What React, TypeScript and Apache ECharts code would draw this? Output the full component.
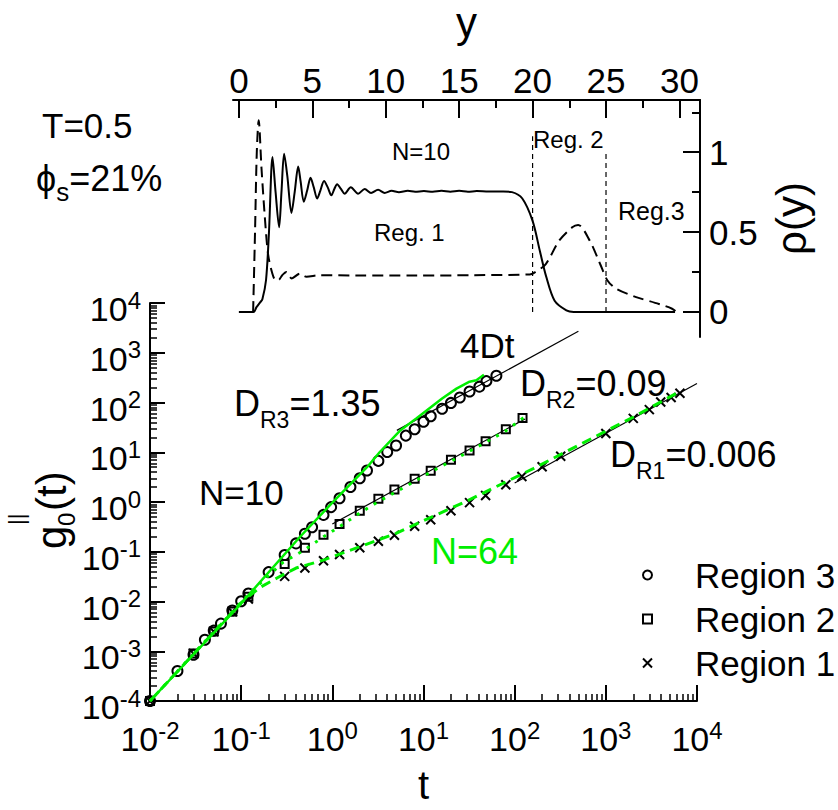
import React, { useEffect, useRef } from 'react';
import * as echarts from 'echarts';

const FONT = '"Liberation Sans", Arial, Helvetica, sans-serif';
const GREEN = '#00ee00';

// ---- main panel: g0||(t) vs t, N=10 markers ----
const region3T = [0.01, 0.02, 0.03, 0.04, 0.05, 0.06, 0.08, 0.1, 0.12, 0.2, 0.3, 0.4, 0.5, 0.6, 0.8, 0.97, 1.2, 1.58, 2.0, 2.4, 3.2, 4.0, 5.0, 6.4, 8.0, 10, 12, 16, 20, 25, 32, 41, 49, 63];
const region3G = [1e-4, 4e-4, 8.5e-4, 1.7e-3, 2.6e-3, 3.6e-3, 6.6e-3, 0.0101, 0.0145, 0.039, 0.086, 0.147, 0.23, 0.31, 0.55, 0.79, 1.19, 2.0, 3.0, 4.3, 6.7, 10.1, 13.7, 21.6, 29, 41, 53, 75, 98, 126, 166, 208, 269, 344];

const region2T = [0.01, 0.03, 0.05, 0.08, 0.12, 0.3, 0.5, 0.8, 1.2, 2, 3.2, 4.8, 8, 12, 20, 32, 48, 80, 122];
const region2G = [1e-4, 9e-4, 2.5e-3, 6.3e-3, 0.0125, 0.057, 0.12, 0.22, 0.36, 0.67, 1.16, 1.78, 2.93, 4.27, 7.1, 10.9, 16.7, 29, 49];

const region1T = [0.01, 0.03, 0.05, 0.08, 0.12, 0.3, 0.5, 0.8, 1.2, 2, 3.2, 4.8, 8, 12, 20, 32, 48, 80, 120, 200, 320, 1000, 2000, 3000, 4000, 5200, 6500];
const region1G = [1e-4, 9e-4, 2.5e-3, 6.2e-3, 0.0112, 0.032, 0.047, 0.066, 0.088, 0.12, 0.163, 0.214, 0.326, 0.44, 0.665, 0.97, 1.35, 2.23, 3.25, 5.1, 8.3, 23.9, 48, 72, 102, 126, 154];

// N=64 curves (green)
const n64R3T = [0.01, 0.1, 0.44, 1.0, 2.4, 3.3, 5.5, 8.4, 16, 23, 32, 38, 46];
const n64R3G = [1e-4, 0.0091, 0.198, 0.97, 5.0, 10.0, 27, 48, 120, 190, 262, 281, 360];
const n64R2T = [0.01, 0.125, 0.29, 0.5, 0.8, 1.2, 2, 3.2, 5, 8, 12, 20, 32, 50, 80, 135];
const n64R2G = [1e-4, 0.015, 0.062, 0.11, 0.2, 0.32, 0.6, 1.02, 1.6, 2.6, 4.0, 6.6, 10.5, 16.5, 27, 55];
const n64R1T = [0.01, 0.1, 0.16, 0.25, 0.4, 0.8, 2, 5, 10, 30, 160, 2000, 6400];
const n64R1G = [1e-4, 0.0095, 0.019, 0.03, 0.047, 0.068, 0.126, 0.235, 0.42, 1.05, 4.7, 51, 165];

// 4Dt fit lines (end points)
const fitR3T = [5.1, 500];
const fitR3G = [27.5, 2700];
const fitR2T = [1.0, 130];
const fitR2G = [0.36, 46.8];
const fitR1T = [100, 10000];
const fitR1G = [2.4, 240];

// ---- inset: rho(y) ----
const rhoSolidY = [0, 1.0, 1.2, 1.45, 1.6, 1.85, 2.05, 2.29, 2.5, 2.74, 2.9, 3.08, 3.3, 3.58, 3.8, 4.04, 4.2, 4.42, 4.65, 4.88, 5.1, 5.33, 5.55, 5.8, 6.05, 6.3, 6.5, 6.69, 6.95, 7.2, 7.62, 8.12, 8.57, 9.0, 9.48, 9.93, 10.4, 10.9, 11.5, 12.0, 12.6, 13.2, 13.8, 14.4, 15.0, 15.6, 16.2, 17, 18, 18.6, 19.3, 20.0, 20.5, 20.93, 21.5, 22.3, 22.8, 29.7];
const rhoSolidV = [0, 0, 0.03, 0.06, 0.08, 0.2, 0.5, 0.97, 0.75, 0.53, 0.75, 0.99, 0.85, 0.62, 0.75, 0.91, 0.82, 0.69, 0.76, 0.84, 0.78, 0.71, 0.76, 0.82, 0.78, 0.73, 0.77, 0.8, 0.77, 0.74, 0.78, 0.74, 0.77, 0.745, 0.765, 0.745, 0.758, 0.75, 0.758, 0.752, 0.757, 0.752, 0.758, 0.752, 0.758, 0.752, 0.757, 0.754, 0.754, 0.75, 0.71, 0.57, 0.38, 0.22, 0.07, 0.01, 0, 0];
const rhoDashY = [0.97, 1.1, 1.22, 1.35, 1.54, 1.77, 1.99, 2.25, 2.5, 2.7, 2.95, 3.24, 3.6, 4.15, 4.6, 5.5, 8, 12, 16, 19.8, 20.1, 20.9, 21.8, 22.7, 23.1, 23.9, 24.6, 25.1, 25.7, 27.05, 28.6, 29.5, 29.8];
const rhoDashV = [0, 0.5, 1.0, 1.2, 0.9, 0.59, 0.36, 0.25, 0.2, 0.2, 0.23, 0.25, 0.21, 0.24, 0.22, 0.23, 0.228, 0.228, 0.23, 0.235, 0.245, 0.3, 0.445, 0.53, 0.545, 0.445, 0.3, 0.197, 0.145, 0.093, 0.05, 0.02, 0];
const regBoundY = [20, 25];
const regBoundTop = [1.1, 1.0];

// tick values
const mainXMajor = [0.01, 0.1, 1, 10, 100, 1000, 10000];
const mainYMajor = [1e-4, 1e-3, 1e-2, 0.1, 1, 10, 100, 1000, 10000];
const insetXMajor = [0, 5, 10, 15, 20, 25, 30];
const insetXMinor = [2.5, 7.5, 12.5, 17.5, 22.5, 27.5];
const insetYMajor = [0, 0.5, 1];
const insetYMinor = [0.25, 0.75, 1.25];

function minorLog(lo: number, hi: number) {
  const out: number[] = [];
  for (let k = lo; k < hi; k++) for (let m = 2; m <= 9; m++) out.push(Number((m * Math.pow(10, k)).toPrecision(3)));
  return out;
}
const mainXMinor = minorLog(-2, 4);
const mainYMinor = minorLog(-4, 4);

const zip = (a: number[], b: number[]) => a.map((v, i) => [v, b[i]]);
const pow10 = (v: number) => `{b|10}{e|${Math.round(Math.log10(v))}}`;
const richTick = {
  b: { fontSize: 34, lineHeight: 42, verticalAlign: 'middle', fontFamily: FONT, color: '#000' },
  e: { fontSize: 24, lineHeight: 18, verticalAlign: 'top', fontFamily: FONT, color: '#000' },
};
const richAnn = {
  m: { fontSize: 36, lineHeight: 36, verticalAlign: 'top', fontFamily: FONT, color: '#000' },
  s: { fontSize: 23, lineHeight: 70, verticalAlign: 'middle', fontFamily: FONT, color: '#000' },
};
const AX = { color: '#000', width: 2 };

export default function App() {
  const ref = useRef<HTMLDivElement>(null);
  useEffect(() => {
    if (!ref.current) return;
    const chart = echarts.init(ref.current, undefined, { renderer: 'svg' });
    const txt = (text: string, x: number, y: number, size: number, fill = '#000') => ({
      type: 'text', x, y, silent: true,
      style: { text, fontSize: size, fontFamily: FONT, fill, align: 'left', verticalAlign: 'middle' },
    });
    const richTxt = (text: string, x: number, y: number, rich: any) => ({
      type: 'text', x, y, silent: true,
      style: { text, rich, fontSize: 36, fontFamily: FONT, fill: '#000', align: 'left', verticalAlign: 'top' },
    });
    const option: any = {
      animation: false,
      backgroundColor: '#fff',
      grid: [
        { left: 150, top: 303, width: 547, height: 406 },
        { left: 233, top: 98, width: 467, height: 239 },
      ],
      xAxis: [
        {
          type: 'log', gridIndex: 0, min: 0.01, max: 10000, position: 'bottom',
          axisLine: { onZero: false, lineStyle: AX },
          axisTick: { inside: true, length: 16, customValues: mainXMajor, lineStyle: AX },
          axisLabel: { customValues: mainXMajor, formatter: pow10, rich: richTick, margin: 17 },
          splitLine: { show: false },
          name: 't', nameLocation: 'middle', nameGap: 64,
          nameTextStyle: { fontSize: 40, fontFamily: FONT, color: '#000' },
        },
        {
          type: 'log', gridIndex: 0, min: 0.01, max: 10000, position: 'bottom',
          axisLine: { show: false, onZero: false },
          axisTick: { inside: true, length: 7, customValues: mainXMinor, lineStyle: { color: '#000', width: 1.5 } },
          axisLabel: { show: false }, splitLine: { show: false },
        },
        {
          type: 'value', gridIndex: 1, min: -0.4, max: 31.4, position: 'top',
          axisLine: { onZero: false, lineStyle: AX },
          axisTick: { inside: true, length: 18, customValues: insetXMajor, lineStyle: AX },
          axisLabel: { customValues: insetXMajor, fontSize: 35, fontFamily: FONT, color: '#000', margin: 2 },
          splitLine: { show: false },
          name: 'y', nameLocation: 'middle', nameGap: 57,
          nameTextStyle: { fontSize: 42, fontFamily: FONT, color: '#000' },
        },
        {
          type: 'value', gridIndex: 1, min: -0.4, max: 31.4, position: 'top',
          axisLine: { show: false, onZero: false },
          axisTick: { inside: true, length: 8, customValues: insetXMinor, lineStyle: AX },
          axisLabel: { show: false }, splitLine: { show: false },
        },
      ],
      yAxis: [
        {
          type: 'log', gridIndex: 0, min: 1e-4, max: 1e4, position: 'left',
          axisLine: { onZero: false, lineStyle: AX },
          axisTick: { inside: true, length: 15, customValues: mainYMajor, lineStyle: AX },
          axisLabel: { customValues: mainYMajor, formatter: pow10, rich: richTick, margin: 9, padding: [12, 0, 0, 0] },
          splitLine: { show: false },
        },
        {
          type: 'log', gridIndex: 0, min: 1e-4, max: 1e4, position: 'left',
          axisLine: { show: false, onZero: false },
          axisTick: { inside: true, length: 7, customValues: mainYMinor, lineStyle: { color: '#000', width: 1.5 } },
          axisLabel: { show: false }, splitLine: { show: false },
        },
        {
          type: 'value', gridIndex: 1, min: -0.157, max: 1.327, position: 'right',
          axisLine: { onZero: false, lineStyle: AX },
          axisTick: { inside: true, length: 17, customValues: insetYMajor, lineStyle: AX },
          axisLabel: { customValues: insetYMajor, fontSize: 35, fontFamily: FONT, color: '#000', margin: 9 },
          splitLine: { show: false },
          name: 'ρ(y)', nameLocation: 'middle', nameGap: 70, nameRotate: 90,
          nameTextStyle: { fontSize: 42, fontFamily: FONT, color: '#000' },
        },
        {
          type: 'value', gridIndex: 1, min: -0.157, max: 1.327, position: 'right',
          axisLine: { show: false, onZero: false },
          axisTick: { inside: true, length: 8, customValues: insetYMinor, lineStyle: AX },
          axisLabel: { show: false }, splitLine: { show: false },
        },
      ],
      legend: {
        data: ['Region 3', 'Region 2', 'Region 1'],
        orient: 'vertical', left: 637, top: 551,
        itemWidth: 9, itemHeight: 9, itemGap: 6, selectedMode: false,
        textStyle: { fontSize: 35, fontFamily: FONT, color: '#000', lineHeight: 38, padding: [0, 0, 0, 38] },
      },
      series: [
        // fit lines
        { type: 'line', xAxisIndex: 0, yAxisIndex: 0, data: zip(fitR3T, fitR3G), symbol: 'none', lineStyle: { color: '#000', width: 1.2 }, z: 2 },
        { type: 'line', xAxisIndex: 0, yAxisIndex: 0, data: zip(fitR2T, fitR2G), symbol: 'none', lineStyle: { color: '#000', width: 1.2 }, z: 2 },
        { type: 'line', xAxisIndex: 0, yAxisIndex: 0, data: zip(fitR1T, fitR1G), symbol: 'none', lineStyle: { color: '#000', width: 1.2 }, z: 2 },
        // markers
        {
          name: 'Region 3', type: 'scatter', xAxisIndex: 0, yAxisIndex: 0, data: zip(region3T, region3G),
          symbol: 'circle', symbolSize: 10, itemStyle: { color: 'rgba(255,255,255,0)', borderColor: '#000', borderWidth: 2, opacity: 1 }, z: 3,
        },
        {
          name: 'Region 2', type: 'scatter', xAxisIndex: 0, yAxisIndex: 0, data: zip(region2T, region2G),
          symbol: 'rect', symbolSize: 8, itemStyle: { color: 'rgba(255,255,255,0)', borderColor: '#000', borderWidth: 2, opacity: 1 }, z: 3,
        },
        {
          name: 'Region 1', type: 'scatter', xAxisIndex: 0, yAxisIndex: 0, data: zip(region1T, region1G),
          symbol: 'path://M0,0L10,10M10,0L0,10', symbolSize: 9, itemStyle: { color: '#000', borderColor: '#000', borderWidth: 2, opacity: 1 }, z: 3,
        },
        // N=64 curves
        { type: 'line', xAxisIndex: 0, yAxisIndex: 0, data: zip(n64R3T, n64R3G), symbol: 'none', lineStyle: { color: GREEN, width: 2.5 }, z: 4 },
        { type: 'line', xAxisIndex: 0, yAxisIndex: 0, data: zip(n64R2T, n64R2G), symbol: 'none', lineStyle: { color: GREEN, width: 3, type: [3, 7] }, z: 4 },
        { type: 'line', xAxisIndex: 0, yAxisIndex: 0, data: zip(n64R1T, n64R1G), symbol: 'none', lineStyle: { color: GREEN, width: 3, type: [10, 6] }, z: 4 },
        // inset
        { type: 'line', xAxisIndex: 2, yAxisIndex: 2, data: zip(rhoSolidY, rhoSolidV), symbol: 'none', smooth: 0.3, lineStyle: { color: '#000', width: 2 } },
        { type: 'line', xAxisIndex: 2, yAxisIndex: 2, data: zip(rhoDashY, rhoDashV), symbol: 'none', smooth: 0.3, lineStyle: { color: '#000', width: 2, type: [11, 6] } },
        { type: 'line', xAxisIndex: 2, yAxisIndex: 2, data: [[regBoundY[0], 0], [regBoundY[0], regBoundTop[0]]], symbol: 'none', lineStyle: { color: '#000', width: 1.2, type: [5, 4] } },
        { type: 'line', xAxisIndex: 2, yAxisIndex: 2, data: [[regBoundY[1], 0], [regBoundY[1], regBoundTop[1]]], symbol: 'none', lineStyle: { color: '#000', width: 1.2, type: [5, 4] } },
      ],
      graphic: [
        txt('T=0.5', 42, 125.5, 35),
        richTxt('{m|ϕ}{s|s}{m|=21%}', 36, 160, { m: richAnn.m, s: { ...richAnn.s, fontSize: 26, lineHeight: 64 } }),
        richTxt('{m|D}{s|R3}{m|=1.35}', 234, 385, richAnn),
        richTxt('{m|D}{s|R2}{m|=0.09}', 520, 365, richAnn),
        richTxt('{m|D}{s|R1}{m|=0.006}', 610, 436, richAnn),
        txt('4Dt', 460, 345.5, 35),
        txt('N=10', 199, 492.5, 35),
        txt('N=64', 431, 551.5, 36, GREEN),
        txt('N=10', 392, 151.5, 24),
        txt('Reg. 1', 374, 232, 24),
        txt('Reg. 2', 533, 139, 24),
        txt('Reg.3', 618, 211, 25),
        {
          type: 'group', x: 51, y: 549, rotation: Math.PI / 2, silent: true,
          children: [
            { type: 'text', x: 0, y: 0, style: { text: 'g', fontSize: 42, fontFamily: FONT, fill: '#000', align: 'left', verticalAlign: 'middle' } },
            { type: 'text', x: 23, y: 15, style: { text: '0', fontSize: 24, fontFamily: FONT, fill: '#000', align: 'left', verticalAlign: 'middle' } },
            { type: 'text', x: 24, y: -35, style: { text: '||', fontSize: 22, fontFamily: FONT, fill: '#000', align: 'left', verticalAlign: 'middle' } },
            { type: 'text', x: 38, y: 0, style: { text: '(t)', fontSize: 42, fontFamily: FONT, fill: '#000', align: 'left', verticalAlign: 'middle' } },
          ],
        },
      ],
    };
    chart.setOption(option);
    return () => chart.dispose();
  }, []);
  return <div ref={ref} style={{ position: 'fixed', left: 0, top: 0, width: 838, height: 810 }} />;
}
